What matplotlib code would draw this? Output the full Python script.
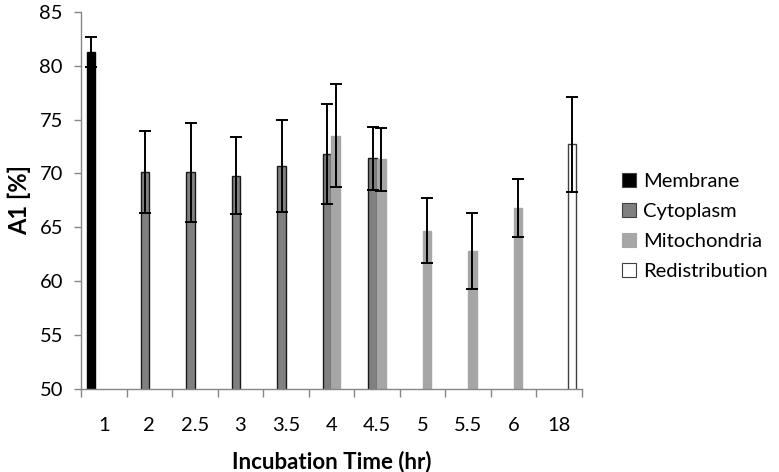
import matplotlib
matplotlib.use('Agg')
import matplotlib.pyplot as plt
import matplotlib.patches as mpatches
import numpy as np

plt.rcParams['font.family'] = ['Lato', 'DejaVu Sans']

# Data (nan = no bar)
categories = ['1', '2', '2.5', '3', '3.5', '4', '4.5', '5', '5.5', '6', '18']
nan = np.nan
membrane = [81.3, nan, nan, nan, nan, nan, nan, nan, nan, nan, nan]
membrane_err = [1.4, nan, nan, nan, nan, nan, nan, nan, nan, nan, nan]
cytoplasm = [nan, 70.1, 70.1, 69.8, 70.7, 71.8, 71.4, nan, nan, nan, nan]
cytoplasm_err = [nan, 3.8, 4.6, 3.6, 4.3, 4.6, 2.9, nan, nan, nan, nan]
mitochondria = [nan, nan, nan, nan, nan, 73.5, 71.3, 64.7, 62.8, 66.8, nan]
mitochondria_err = [nan, nan, nan, nan, nan, 4.8, 2.9, 3.0, 3.5, 2.7, nan]
redistribution = [nan, nan, nan, nan, nan, nan, nan, nan, nan, nan, 72.7]
redistribution_err = [nan, nan, nan, nan, nan, nan, nan, nan, nan, nan, 4.4]

series = [
    ('Membrane', membrane, membrane_err, '#000000', '#000000'),
    ('Cytoplasm', cytoplasm, cytoplasm_err, '#808080', '#1a1a1a'),
    ('Mitochondria', mitochondria, mitochondria_err, '#a6a6a6', '#a6a6a6'),
    ('Redistribution', redistribution, redistribution_err, '#ffffff', '#404040'),
]

fig = plt.figure(figsize=(7.79, 4.72), dpi=100)
ax = fig.add_axes([0.104, 0.176, 0.643, 0.799])

x = np.arange(len(categories))
width = 0.187
handles = []
for i, (name, vals, errs, fc, ec) in enumerate(series):
    pos = x + (i - 1.5) * width
    ax.bar(pos, vals, width, bottom=0, color=fc, edgecolor=ec, linewidth=1.0)
    ax.errorbar(pos, vals, yerr=errs, fmt='none', ecolor='black',
                elinewidth=1.4, capsize=4, capthick=1.4)
    handles.append(mpatches.Patch(facecolor=fc,
                                  edgecolor='#404040' if name != 'Mitochondria' else fc,
                                  linewidth=0.8, label=name))

ax.set_xlim(-0.5, len(categories) - 0.5)
ax.set_ylim(50, 85)
ax.set_yticks(np.arange(50, 86, 5))
ax.set_xticks(x)
ax.set_xticklabels(categories, fontsize=14.5)
ax.set_xticks(np.arange(-0.5, len(categories), 1), minor=True)
ax.tick_params(axis='x', which='major', length=0, pad=20)
ax.tick_params(axis='x', which='minor', length=6, color='#868686', width=1)
ax.tick_params(axis='y', length=5, color='#868686', width=1, labelsize=14.5, pad=8)

for s in ['top', 'right']:
    ax.spines[s].set_visible(False)
for s in ['left', 'bottom']:
    ax.spines[s].set_color('#868686')
    ax.spines[s].set_linewidth(1)

ax.set_xlabel('Incubation Time (hr)', fontsize=16, fontweight='bold', labelpad=12)
ax.set_ylabel('A1 [%]', fontsize=17, fontweight='bold', labelpad=6)

fig.legend(handles=handles, loc='center left', bbox_to_anchor=(0.775, 0.52),
           frameon=False, fontsize=14.5, handlelength=0.7, handleheight=0.7,
           handletextpad=0.35, labelspacing=0.65)

fig.savefig('out.png', dpi=100)
